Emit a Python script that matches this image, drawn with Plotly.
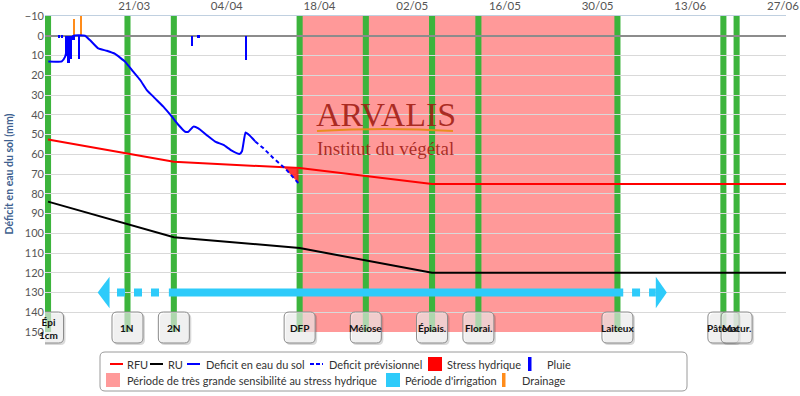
import numpy as np
import pandas as pd
import plotly.graph_objects as go

# ---------------- data ----------------
stage_labels = ["Épi<br>1cm", "1N", "2N", "DFP", "Méiose", "Épiais.", "Florai.",
                "Laiteux", "Pâteux", "Matur."]
stage_dates = ["2016-03-08", "2016-03-20", "2016-03-27", "2016-04-15", "2016-04-25",
               "2016-05-05", "2016-05-12", "2016-06-02", "2016-06-18", "2016-06-20"]

sensitive_period = ["2016-04-15", "2016-06-02"]

rfu_dates = ["2016-03-08", "2016-03-27", "2016-04-15", "2016-05-05", "2016-06-27 12:00"]
rfu_values = [52.5, 63.8, 67.0, 75.0, 75.0]
ru_values = [84.0, 102.0, 107.5, 120.0, 120.0]

deficit_dates = [
    "2016-03-08 01:00", "2016-03-10 02:00", "2016-03-10 14:00", "2016-03-11 02:00", "2016-03-11 19:00",
    "2016-03-13 14:00", "2016-03-14 08:00", "2016-03-15 14:00", "2016-03-16 21:00", "2016-03-18 03:00",
    "2016-03-19 15:00", "2016-03-20 21:00", "2016-03-21 22:00", "2016-03-22 22:00", "2016-03-24 04:00",
    "2016-03-25 10:00", "2016-03-26 17:00", "2016-03-27 17:00", "2016-03-28 17:00", "2016-03-29 05:00",
    "2016-03-29 23:00", "2016-03-30 17:00", "2016-03-31 23:00", "2016-04-02 06:00", "2016-04-03 12:00",
    "2016-04-04 18:00", "2016-04-05 22:00", "2016-04-06 07:00", "2016-04-06 20:00", "2016-04-07 09:00",
    "2016-04-08 07:00"]
deficit_values = [13.1, 13.0, 10.6, 3.8, 0.0, 0.0, 2.2, 6.4, 7.6, 9.2,
                  13.1, 18.2, 22.4, 27.5, 31.7, 35.9, 41.0, 45.2, 48.6, 48.6,
                  46.0, 46.9, 50.3, 53.6, 55.3, 58.2, 59.9, 58.5, 49.0, 50.3,
                  53.5]

forecast_dates = ["2016-04-08 07:00", "2016-04-09 13:00", "2016-04-11 01:00",
                  "2016-04-12 19:00", "2016-04-14 20:00"]
forecast_values = [53.5, 57.0, 62.0, 67.1, 74.7]

rain_dates = ["2016-03-09 16:00", "2016-03-10 02:00", "2016-03-10 17:00", "2016-03-11 02:00",
              "2016-03-11 11:00", "2016-03-11 20:00", "2016-03-12 15:00", "2016-03-29 17:00",
              "2016-03-30 17:00", "2016-04-06 21:00"]
rain_mm = [1, 1, 10, 14, 12, 2, 12, 5, 1, 12.5]

drainage_dates = ["2016-03-11 22:00", "2016-03-13 00:00"]
drainage_mm = [8.5, 12]

irrigation_period = ["2016-03-26 06:00", "2016-06-02 21:00"]
irrigation_uncertain_left = ["2016-03-18 10:00", "2016-03-24 19:00"]
irrigation_uncertain_right = ["2016-06-04 05:00", "2016-06-07 19:00"]
irrigation_arrow_left = ["2016-03-15 12:00", "2016-03-17 07:00"]    # tip, base
irrigation_arrow_right = ["2016-06-07 19:00", "2016-06-09 11:00"]   # base, tip
irrigation_level = 130

x_range = ["2016-03-07 13:00", "2016-06-27 11:00"]
y_ticks = list(range(-10, 151, 10))

# ---------------- style / geometry ----------------
W, H = 800, 396
L, R, T, B = 45, 14, 16, 64
PW, PH = W - L - R, H - T - B
DAY_MS = 86400000
FONT = "Lato, 'Open Sans', sans-serif"
IRR = "#2ecbfa"
GREEN = "#3cb43c"
ARROW_HALF = 8
BOX_CY = 327.5          # stage box centre, pixels from top


def px(x):
    return (x - L) / PW


def py(y):
    return (H - B - y) / PH


def rrect(x0, y0, x1, y1, r):
    return (f"M{x0 + r},{y0} L{x1 - r},{y0} Q{x1},{y0} {x1},{y0 + r} "
            f"L{x1},{y1 - r} Q{x1},{y1} {x1 - r},{y1} L{x0 + r},{y1} "
            f"Q{x0},{y1} {x0},{y1 - r} L{x0},{y0 + r} Q{x0},{y0} {x0 + r},{y0} Z")


def ns(d):
    return np.array([pd.Timestamp(v).value for v in d], dtype=np.int64)


fig = go.Figure()

# rain / drainage bars
fig.add_trace(go.Bar(x=[pd.Timestamp(d) for d in rain_dates], y=rain_mm, width=0.35 * DAY_MS,
                     marker=dict(color="#0000ff", line=dict(width=0)), name="Pluie"))
fig.add_trace(go.Bar(x=[pd.Timestamp(d) for d in drainage_dates], y=[-v for v in drainage_mm],
                     width=0.35 * DAY_MS,
                     marker=dict(color="#ff8c1a", line=dict(width=0)), name="Drainage"))

# RFU / RU
fig.add_trace(go.Scatter(x=rfu_dates, y=rfu_values, mode="lines",
                         line=dict(color="#ff0000", width=2), name="RFU"))
fig.add_trace(go.Scatter(x=rfu_dates, y=ru_values, mode="lines",
                         line=dict(color="#000000", width=2), name="RU"))

# stress hydrique polygon (forecast deficit beyond RFU)
f_ns, r_ns = ns(forecast_dates), ns(rfu_dates)
grid = np.linspace(f_ns[0], f_ns[-1], 800)
fv = np.interp(grid, f_ns, forecast_values)
rv = np.interp(grid, r_ns, rfu_values)
m = fv > rv
gx = [pd.Timestamp(int(v)) for v in grid[m]]
sx = gx + gx[::-1]
sy = list(rv[m]) + list(fv[m][::-1])
fig.add_trace(go.Scatter(x=sx, y=sy, fill="toself", fillcolor="rgba(255,20,20,0.85)",
                         mode="lines", line=dict(width=0), name="Stress hydrique"))

# deficit
fig.add_trace(go.Scatter(x=deficit_dates, y=deficit_values, mode="lines",
                         line=dict(color="#0000ff", width=2, shape="spline", smoothing=0.4),
                         name="Deficit en eau du sol"))
fig.add_trace(go.Scatter(x=forecast_dates, y=forecast_values, mode="lines",
                         line=dict(color="#0000ff", width=2, dash="4px,3px"),
                         name="Deficit prévisionnel"))

# irrigation arrow
fig.add_trace(go.Scatter(x=irrigation_period, y=[irrigation_level] * 2, mode="lines",
                         line=dict(color=IRR, width=8)))
for seg in (irrigation_uncertain_left, irrigation_uncertain_right):
    fig.add_trace(go.Scatter(x=seg, y=[irrigation_level] * 2, mode="lines",
                             line=dict(color=IRR, width=8, dash="8px,9px")))
for tip, base in ((irrigation_arrow_left[0], irrigation_arrow_left[1]),
                  (irrigation_arrow_right[1], irrigation_arrow_right[0])):
    fig.add_trace(go.Scatter(x=[tip, base, base, tip],
                             y=[irrigation_level, irrigation_level - ARROW_HALF,
                                irrigation_level + ARROW_HALF, irrigation_level],
                             fill="toself", fillcolor=IRR, mode="lines", line=dict(width=0)))

shapes = []
annotations = []

# sensitive period
shapes.append(dict(type="rect", xref="x", yref="paper", x0=sensitive_period[0],
                   x1=sensitive_period[1], y0=0, y1=1, fillcolor="rgba(255,0,0,0.4)",
                   line=dict(width=0), layer="between"))

# stage bands
half = pd.Timedelta(hours=11)
for d in stage_dates:
    t = pd.Timestamp(d)
    shapes.append(dict(type="rect", xref="x", yref="paper", x0=t - half, x1=t + half,
                       y0=0, y1=1, fillcolor=GREEN, line=dict(width=0), layer="between"))

# stage boxes
for d, lab in zip(stage_dates, stage_labels):
    shapes.append(dict(type="path", xref="x", yref="paper", xsizemode="pixel", ysizemode="pixel",
                       xanchor=d, yanchor=py(BOX_CY), path=rrect(-14, -17.5, 17.5, 14, 5),
                       fillcolor="rgba(0,0,0,0.15)", line=dict(width=0), layer="above"))
    shapes.append(dict(type="path", xref="x", yref="paper", xsizemode="pixel", ysizemode="pixel",
                       xanchor=d, yanchor=py(BOX_CY), path=rrect(-15.5, -15.5, 15.5, 15.5, 5),
                       fillcolor="rgba(255,255,255,0.6)", line=dict(color="#8a8a8a", width=1),
                       layer="above"))
    annotations.append(dict(x=d, y=py(BOX_CY + 0.5), xref="x", yref="paper", text=f"<b>{lab}</b>",
                            showarrow=False, font=dict(family=FONT, size=10, color="#111"),
                            xanchor="center", yanchor="middle"))

# logo
annotations.append(dict(x=px(386), y=py(114), xref="paper", yref="paper", text="ARVALIS",
                        showarrow=False, xanchor="center", yanchor="middle",
                        font=dict(family="Liberation Serif, serif", size=34,
                                  color="rgba(160,28,18,0.88)")))
annotations.append(dict(x=px(385), y=py(148), xref="paper", yref="paper",
                        text="Institut du végétal", showarrow=False, xanchor="center",
                        yanchor="middle",
                        font=dict(family="Liberation Serif, serif", size=19,
                                  color="rgba(160,28,18,0.88)")))
shapes.append(dict(type="path", xref="paper", yref="paper",
                   path=f"M{px(317)},{py(131)} Q{px(385)},{py(127)} {px(453)},{py(131)}",
                   line=dict(color="rgba(230,140,20,0.9)", width=2), layer="above"))

# manual legend
legend_rows = [364, 380]
legend_items = [
    ("RFU", "line", "#ff0000", 110, 125, 0),
    ("RU", "line", "#000000", 150, 166, 0),
    ("Deficit en eau du sol", "line", "#0000ff", 187, 204, 0),
    ("Deficit prévisionnel", "dash", "#0000ff", 310, 327, 0),
    ("Stress hydrique", "square", "#ff0000", 428, 445, 0),
    ("Pluie", "bar", "#0000ff", 528, 545, 0),
    ("Période de très grande sensibilité au stress hydrique", "square", "#ff9a9a", 106, 125, 1),
    ("Période d'irrigation", "square", IRR, 386, 403, 1),
    ("Drainage", "bar", "#ff8c1a", 502, 520, 1),
]
shapes.append(dict(type="path", xref="paper", yref="paper", xsizemode="pixel",
                   ysizemode="pixel", xanchor=0, yanchor=0,
                   path=rrect(100 - L, (H - B) - 391, 687 - L, (H - B) - 352, 5),
                   fillcolor="rgba(255,255,255,0)", line=dict(color="#9a9a9a", width=1),
                   layer="above"))
for lab, kind, col, sx0, tx, row in legend_items:
    yc = legend_rows[row]
    if kind in ("line", "dash"):
        shapes.append(dict(type="line", xref="paper", yref="paper", x0=px(sx0), x1=px(sx0 + 13),
                           y0=py(yc), y1=py(yc),
                           line=dict(color=col, width=2, dash="solid" if kind == "line" else "4px,2px")))
    elif kind == "square":
        shapes.append(dict(type="rect", xref="paper", yref="paper", x0=px(sx0), x1=px(sx0 + 14),
                           y0=py(yc - 7), y1=py(yc + 7), fillcolor=col, line=dict(width=0)))
    else:
        shapes.append(dict(type="rect", xref="paper", yref="paper", x0=px(sx0), x1=px(sx0 + 3.5),
                           y0=py(yc - 7), y1=py(yc + 7), fillcolor=col, line=dict(width=0)))
    annotations.append(dict(x=px(tx), y=py(yc), xref="paper", yref="paper", text=lab,
                            showarrow=False, xanchor="left", yanchor="middle",
                            font=dict(family=FONT, size=11, color="#333")))

fig.update_layout(
    width=W, height=H,
    margin=dict(l=L, r=R, t=T, b=B, autoexpand=False),
    plot_bgcolor="white", paper_bgcolor="white",
    showlegend=False, barmode="overlay", bargap=0,
    font=dict(family=FONT, size=11, color="#555"),
    shapes=shapes, annotations=annotations,
)
fig.update_xaxes(type="date", range=x_range, side="top", tickformat="%d/%m",
                 tick0="2016-03-21", dtick=14 * DAY_MS, showgrid=False, showline=True,
                 linecolor="#c0d0e0", linewidth=1, ticks="", zeroline=False,
                 tickfont=dict(family=FONT, size=11.5, color="#555"), automargin=False)
fig.update_yaxes(range=[150, -10], tickmode="array", tickvals=y_ticks, showgrid=True,
                 gridcolor="#d9d9d9", gridwidth=1, zeroline=True, zerolinecolor="#8c8c8c",
                 zerolinewidth=2, showline=False, ticks="",
                 tickfont=dict(family=FONT, size=11, color="#555"),
                 title=dict(text="<b>Déficit en eau du sol (mm)</b>",
                            font=dict(family=FONT, size=10.5, color="#3e5f8f"), standoff=9),
                 automargin=False)

fig.write_html("out.html", config={"displayModeBar": False},
               post_script="document.body.style.margin='0';")
